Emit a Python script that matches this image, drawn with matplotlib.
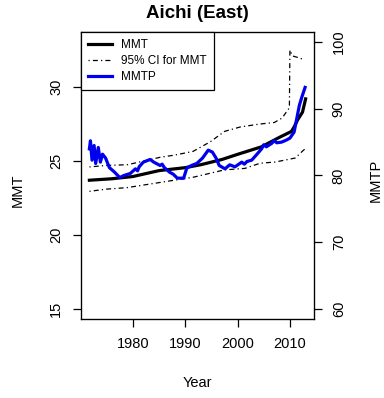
import matplotlib
matplotlib.use("Agg")
import matplotlib.pyplot as plt

plt.rcParams['font.family'] = ['Liberation Sans', 'DejaVu Sans']

# fitted MMT (left axis)
mmt_years = [1971.7, 1976, 1980, 1985, 1990, 1993, 1997, 2000, 2004.5, 2008,
             2010.3, 2010.8, 2011.5, 2012.4, 2013]
mmt = [23.7, 23.8, 23.95, 24.35, 24.55, 24.75, 25.1, 25.45, 25.95, 26.6,
       27.0, 27.3, 27.8, 28.3, 29.2]

# 95% CI for MMT
ci_up_years = [1971.7, 1975, 1979, 1985.2, 1988, 1991.5, 1994.8, 1997.5, 2000.5,
               2004.3, 2007, 2008.5, 2009.3, 2009.9, 2010.0, 2010.5, 2011.5, 2012.3]
ci_up = [24.6, 24.7, 24.75, 25.25, 25.4, 25.65, 26.3, 27.0, 27.3,
         27.5, 27.6, 27.9, 28.3, 28.6, 32.5, 32.1, 32.0, 31.9]
ci_lo_years = [1971.7, 1975, 1978.9, 1985.2, 1991.5, 1997.5, 2001.4, 2004.3,
               2007.2, 2011, 2012.5, 2013]
ci_lo = [22.95, 23.1, 23.2, 23.55, 23.9, 24.4, 24.5, 24.85,
         24.93, 25.2, 25.7, 25.85]

# observed MMTP (right axis)
mmtp_years = [1971.7, 1971.9, 1972.2, 1972.6, 1972.9, 1973.4, 1973.8, 1974.2, 1974.8,
              1975.5, 1976.5, 1977.5, 1978.3, 1979.5, 1980.5, 1980.9, 1981.2, 1982.0,
              1983.3, 1984.0, 1985.2, 1985.6, 1986.0, 1987.0, 1987.7, 1988.5, 1989.7,
              1990.3, 1991.2, 1992.2, 1993.3, 1994.4, 1995.2, 1995.9, 1996.5, 1997.6,
              1998.5, 1999.5, 2000.8, 2001.3, 2001.8, 2002.7, 2003.5, 2004.6, 2005.0,
              2005.5, 2006.5, 2007.0, 2007.5, 2008.4, 2009.3, 2010.0, 2010.8, 2011.3,
              2011.8, 2012.3, 2012.9]
mmtp = [84.0, 85.2, 82.3, 84.5, 81.8, 84.2, 82.0, 83.2, 82.6,
        81.2, 80.5, 79.7, 80.0, 80.3, 81.0, 80.7, 81.3, 82.0,
        82.4, 82.0, 81.5, 81.7, 81.2, 80.5, 80.2, 79.6, 79.6,
        81.1, 81.5, 81.8, 82.6, 83.8, 83.5, 82.6, 81.5, 81.0,
        81.6, 81.3, 82.0, 81.7, 82.1, 82.3, 83.0, 84.0, 84.6,
        84.3, 84.8, 85.2, 84.9, 85.0, 85.3, 85.6, 86.5, 88.5,
        90.5, 91.8, 93.2]

fig = plt.figure(figsize=(3.84, 3.98), dpi=100)
ax = fig.add_axes([0.211, 0.1985, 0.6067, 0.7211])

dotdash = (0, (1, 2.5, 4, 2.5))
l_mmt, = ax.plot(mmt_years, mmt, color='black', lw=2.3, label='MMT')
l_ci, = ax.plot(ci_up_years, ci_up, color='black', lw=0.9, ls=dotdash,
                label='95% CI for MMT')
ax.plot(ci_lo_years, ci_lo, color='black', lw=0.9, ls=dotdash)

ax.set_xlim(1970.1, 2014.6)
ax.set_ylim(14.32, 33.72)
ax.set_xticks([1980, 1990, 2000, 2010])
ax.set_yticks([15, 20, 25, 30])
ax.tick_params(axis='both', length=5.8, width=0.9, labelsize=10.5, direction='out')
ax.tick_params(axis='x', pad=7)
ax.tick_params(axis='y', pad=7, labelrotation=90)
for lab in ax.get_yticklabels():
    lab.set_va('center')
for s in ax.spines.values():
    s.set_linewidth(0.9)

ax2 = ax.twinx()
l_mmtp, = ax2.plot(mmtp_years, mmtp, color='#0000ee', lw=2.3, label='MMTP')
ax2.set_ylim(58.5, 101.5)
ax2.set_yticks([60, 70, 80, 90, 100])
ax2.tick_params(axis='y', length=5.8, width=0.9, labelsize=10.5, pad=7,
                labelrotation=90)
for lab in ax2.get_yticklabels():
    lab.set_va('center')

leg = ax2.legend(handles=[l_mmt, l_ci, l_mmtp], loc='upper left',
                 bbox_to_anchor=(0, 1), borderaxespad=0, fancybox=False,
                 edgecolor='black', framealpha=1, fontsize=8.5,
                 handlelength=2.0, handletextpad=0.8, labelspacing=0.35,
                 borderpad=0.6)
leg.get_frame().set_linewidth(0.9)

fig.text(0.5 * (0.211 + 0.8177), 1 - 13 / 398, 'Aichi (East)', ha='center',
         va='center', fontsize=13.5, fontweight='bold')
fig.text(0.5 * (0.211 + 0.8177), 1 - 383 / 398, 'Year', ha='center',
         va='center', fontsize=10.5)
fig.text(18 / 384, 1 - 190 / 398, 'MMT', rotation=90, ha='center',
         va='center', fontsize=10.5)
fig.text(376 / 384, 1 - 180 / 398, 'MMTP', rotation=90, ha='center',
         va='center', fontsize=10.5)

fig.savefig('out.png', dpi=100)
